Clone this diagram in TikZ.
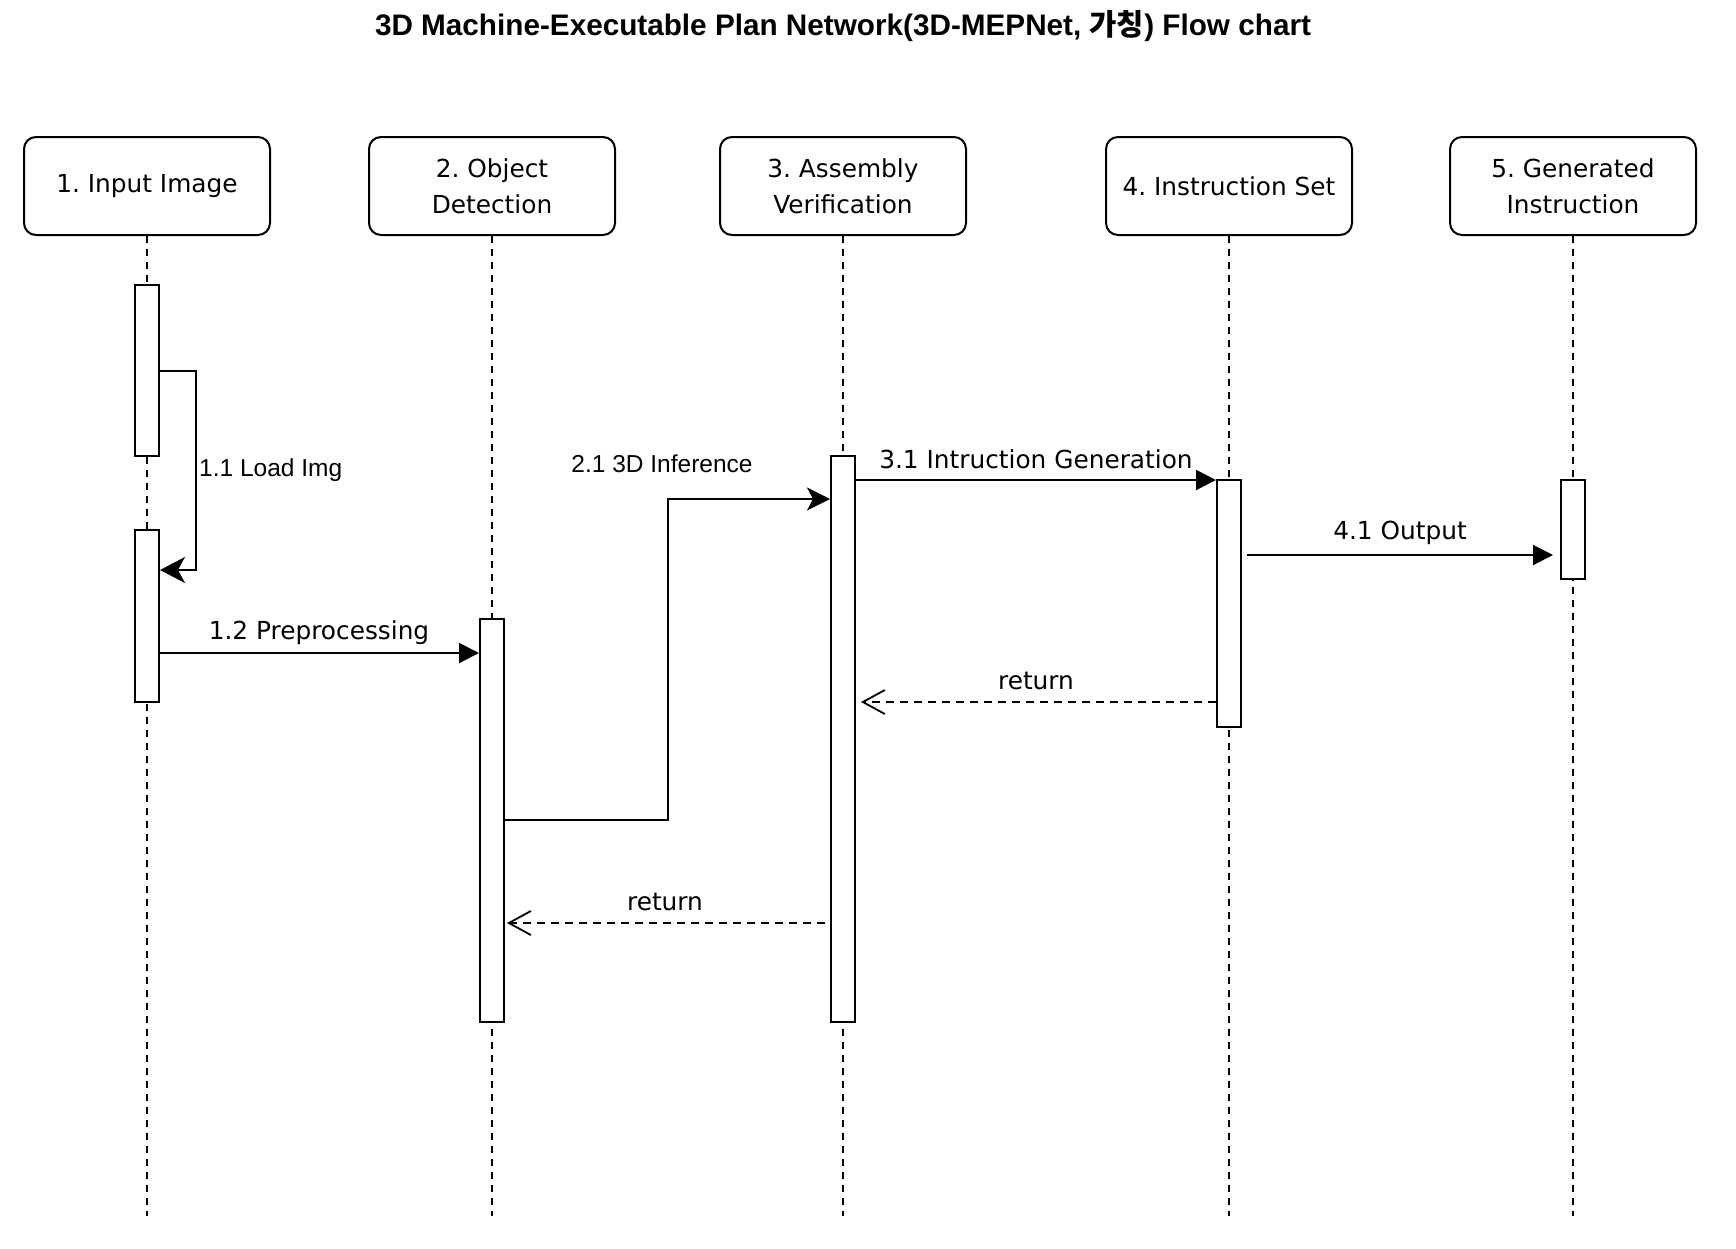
\documentclass[tikz,border=0pt]{standalone}
\usepackage{fontspec}
\setmainfont{DejaVu Sans}
\newfontfamily\helv{Liberation Sans}
\newfontfamily\cjk{Noto Sans CJK KR}
\usetikzlibrary{arrows.meta}
\frenchspacing
\tikzset{
  head/.style={draw, line width=2pt, rounded corners=12pt, minimum width=246pt, minimum height=98pt, align=center, inner sep=0pt, font=\frenchspacing\fontsize{24.8}{36.5}\selectfont},
  lifeline/.style={line width=2pt, dash pattern=on 7pt off 6pt},
  act/.style={draw, fill=white, line width=2pt, minimum width=24pt, inner sep=0pt},
  msg/.style={line width=2pt, -{Triangle[length=20pt,width=20pt]}},
  selfmsg/.style={line width=2pt, -{Stealth[length=23pt,width=23pt,inset=6pt]}},
  bigself/.style={line width=2pt, -{Stealth[length=25pt,width=26pt,inset=7pt]}},
  ret/.style={line width=1.8pt, dash pattern=on 8pt off 6pt, -{Straight Barb[length=22pt,width=24pt,line width=1.8pt]}},
  lbl/.style={inner sep=0pt, font=\frenchspacing\fontsize{24.8}{28}\selectfont},
  hlbl/.style={inner sep=0pt, font=\helv\fontsize{24.5}{28}\selectfont}
}
\begin{document}
\begin{tikzpicture}[x=1pt,y=-1pt]
\useasboundingbox (0,0) rectangle (1736,1248);
\node[inner sep=0pt, font=\helv\bfseries\fontsize{29.7}{34}\selectfont] (title) at (843,26) {3D Machine-Executable Plan Network(3D-MEPNet, {\cjk\bfseries 가칭}) Flow chart};
% heads
\node[head] (h1) at (147,186) {\raisebox{-1.5pt}{1. Input Image}};
\node[head] (h2) at (492,186) {\raisebox{-1.5pt}{2. Object}\\\raisebox{-1.5pt}{Detection}};
\node[head] (h3) at (843,186) {\raisebox{-1.5pt}{3. Assembly}\\\raisebox{-1.5pt}{Verification}};
\node[head] (h4) at (1229,186) {\raisebox{-1.5pt}{4. Instruction Set}};
\node[head] (h5) at (1573,186) {\raisebox{-1.5pt}{5. Generated}\\\raisebox{-1.5pt}{Instruction}};
% lifeline ends
\coordinate (e1) at (147,1216);
\coordinate (e2) at (492,1216);
\coordinate (e3) at (843,1216);
\coordinate (e4) at (1229,1216);
\coordinate (e5) at (1573,1216);
\foreach \i in {1,...,5} \draw[lifeline] (h\i) -- (e\i);
% activations
\node[act, minimum height=171pt] (a1a) at (147,370.5) {};
\node[act, minimum height=172pt] (a1b) at (147,616) {};
\node[act, minimum height=403pt] (a2) at (492,820.5) {};
\node[act, minimum height=566pt] (a3) at (843,739) {};
\node[act, minimum height=247pt] (a4) at (1229,603.5) {};
\node[act, minimum height=99pt] (a5) at (1573,529.5) {};
% y levels
\coordinate (y11a) at (196,371);
\coordinate (y11b) at (196,570);
\coordinate (y12) at (0,653);
\coordinate (y21a) at (668,820);
\coordinate (y21b) at (668,499);
\coordinate (y31) at (0,480);
\coordinate (y41s) at (1247,555);
\coordinate (y41e) at (1553,555);
\coordinate (yr1) at (0,702);
\coordinate (yr1e) at (861,702);
\coordinate (yr2s) at (825,923);
\coordinate (yr2e) at (507,923);
% messages
\draw[bigself] (a1a.east |- y11a) -- (y11a) -- (y11b) -- (a1b.east |- y11b);
\draw[msg] (a1b.east |- y12) -- (a2.west |- y12);
\draw[selfmsg] (a2.east |- y21a) -- (y21a) -- (y21b) -- (a3.west |- y21b);
\draw[msg] (a3.east |- y31) -- (a4.west |- y31);
\draw[msg] (y41s) -- (y41e);
\draw[ret] (a4.west |- yr1) -- (yr1e);
\draw[ret] (yr2s) -- (yr2e);
% labels
\node[hlbl, anchor=west] (l11) at (199,470) {1.1 Load Img};
\node[lbl] (l12) at (319,633) {1.2 Preprocessing};
\node[hlbl] (l21) at (662,464) {2.1 3D Inference};
\node[lbl] (l31) at (1036,459) {3.1 Intruction Generation};
\node[lbl] (l41) at (1400,533) {4.1 Output};
\node[lbl] (lr1) at (1036,681) {return};
\node[lbl] (lr2) at (665,902) {return};
\end{tikzpicture}
\end{document}
